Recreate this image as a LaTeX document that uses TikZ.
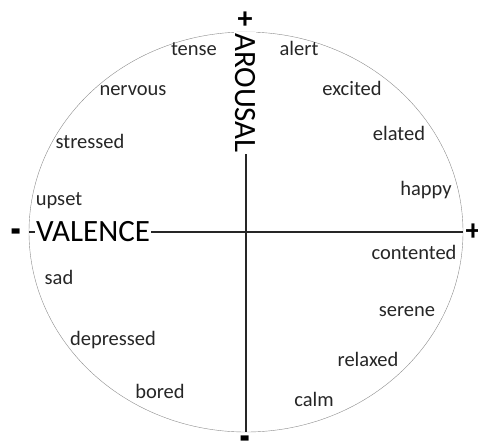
\documentclass[tikz,border=0pt]{standalone}
\usepackage{fontspec}
\usepackage{graphicx}
\setmainfont{Carlito}
\usetikzlibrary{shapes.geometric}

\begin{document}
\begin{tikzpicture}[
    x=1pt, y=-1pt,
    wheel/.style={draw=black!45, thin, ellipse, minimum width=434pt, minimum height=400pt, inner sep=0pt},
    axis/.style={draw=black!85, line width=1.3pt},
    word/.style={anchor=mid, inner sep=0pt, text=black!85, font=\fontsize{20.5}{22}\selectfont},
    title/.style={fill=white, inner sep=1pt, text=black, font=\fontsize{31}{32}\selectfont},
    sign/.style={inner sep=0pt, text=black, font=\bfseries\fontsize{30}{30}\selectfont}
]
\useasboundingbox (0,0) rectangle (478,442);

% Circle and axes
\node[wheel] (wheel) at (246,232) {};
\draw[axis] (wheel.west) -- (wheel.east);
\draw[axis, line width=1.8pt] (wheel.north) -- (wheel.south);

% Axis titles
\node[title] (valence) at (93,232) {VALENCE};
\node[title, rotate=-90] (arousal) at (245,93) {AROUSAL};
\node[sign] (plus_top) at (245,20) {+};
\node[sign] (plus_right) at (473,232) {+};
\node[sign] (minus_left) at (16,239) {\scalebox{0.75}[2]{–}};
\node[sign] (minus_bottom) at (245,446) {\scalebox{0.75}[2]{–}};

% Upper half
\node[word] (tense) at (194,53) {tense};
\node[word] (alert) at (299,53) {alert};
\node[word] (nervous) at (133,93) {nervous};
\node[word] (excited) at (352,93) {excited};
\node[word] (stressed) at (90,146) {stressed};
\node[word] (elated) at (399,138) {elated};
\node[word] (happy) at (426,193) {happy};
\node[word] (upset) at (59,203) {upset};

% Lower half
\node[word] (contented) at (414,257) {contented};
\node[word] (sad) at (59,282) {sad};
\node[word] (serene) at (407,314) {serene};
\node[word] (depressed) at (113,343) {depressed};
\node[word] (relaxed) at (368,364) {relaxed};
\node[word] (bored) at (160,396) {bored};
\node[word] (calm) at (314,404) {calm};

\end{tikzpicture}
\end{document}
